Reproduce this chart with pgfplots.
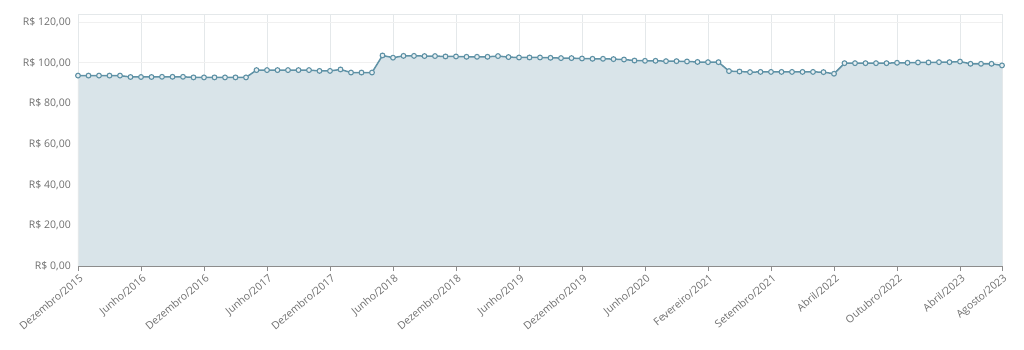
\documentclass[border=0pt]{standalone}
\usepackage{pgfplots}
\pgfplotsset{compat=1.18}
\usepackage{fontspec}
\setmainfont{Open Sans}
\definecolor{linec}{HTML}{5F92A6}
\definecolor{fillc}{HTML}{D9E4E9}
\definecolor{txt}{HTML}{6E6E6E}
\definecolor{gridc}{HTML}{E4E8EA}
\pgfplotstableread{
x y
0 93.7
1 93.7
2 93.7
3 93.7
4 93.7
5 93.0
6 93.0
7 93.0
8 93.1
9 93.1
10 93.1
11 92.8
12 92.8
13 92.8
14 92.8
15 92.8
16 92.8
17 96.4
18 96.4
19 96.4
20 96.4
21 96.4
22 96.4
23 96.0
24 96.0
25 96.7
26 95.2
27 95.2
28 95.2
29 103.6
30 102.5
31 103.4
32 103.4
33 103.3
34 103.3
35 103.1
36 103.1
37 102.95
38 102.95
39 102.95
40 103.3
41 102.8
42 102.6
43 102.6
44 102.6
45 102.45
46 102.3
47 102.3
48 102.1
49 101.96
50 101.96
51 101.8
52 101.6
53 101.1
54 100.97
55 100.97
56 100.8
57 100.8
58 100.64
59 100.4
60 100.3
61 100.3
62 95.9
63 95.7
64 95.4
65 95.5
66 95.5
67 95.5
68 95.5
69 95.5
70 95.5
71 95.4
72 94.6
73 99.8
74 99.8
75 99.8
76 99.8
77 99.8
78 100.0
79 100.0
80 100.15
81 100.15
82 100.3
83 100.3
84 100.6
85 99.5
86 99.5
87 99.5
88 98.7
}\pricedata
\begin{document}
\begin{tikzpicture}
\path[use as bounding box] (-78pt,-84pt) rectangle (946pt,266pt);
\begin{axis}[
  scale only axis, width=924pt, height=252pt,
  xmin=0, xmax=88, ymin=0, ymax=124,
  axis x line*=bottom,
  axis y line*=left,
  x axis line style={draw=black!45, line width=0.8pt, -},
  y axis line style={draw=none, -},
  ytick={0,20,...,120},
  yticklabels={{R\$ 0,00},{R\$ 20,00},{R\$ 40,00},{R\$ 60,00},{R\$ 80,00},{R\$ 100,00},{R\$ 120,00}},
  xtick={0,6,...,84,88},
  xticklabels={Dezembro/2015,Junho/2016,Dezembro/2016,Junho/2017,Dezembro/2017,Junho/2018,Dezembro/2018,Junho/2019,Dezembro/2019,Junho/2020,Fevereiro/2021,Setembro/2021,Abril/2022,Outubro/2022,Abril/2023,Agosto/2023},
  x tick label style={rotate=40, anchor=north east, inner sep=1pt, yshift=-1pt, font=\fontsize{10.5}{12}\selectfont, text=txt},
  y tick label style={font=\fontsize{10.5}{12}\selectfont, text=txt, inner sep=0pt, xshift=-7pt},
  xtick style={draw=black!45, line width=0.6pt},
  ytick style={draw=none},
  major tick length=5pt,
  xtick align=outside,
  ymajorgrids, xmajorgrids,
  y grid style={draw=black!6, line width=0.6pt},
  x grid style={draw=gridc, line width=0.6pt},
  clip=false,
]
\addplot[draw=none, fill=fillc] table {\pricedata} \closedcycle;
\draw[draw=gridc, line width=0.6pt] (axis cs:0,0) -- (axis cs:0,124) -- (axis cs:88,124) -- (axis cs:88,0);
\addplot[color=linec, line width=1.5pt, mark=*, mark size=2.4pt, mark options={fill=fillc!60!white, draw=linec, line width=1.1pt}] table {\pricedata};
\end{axis}
\end{tikzpicture}
\end{document}
